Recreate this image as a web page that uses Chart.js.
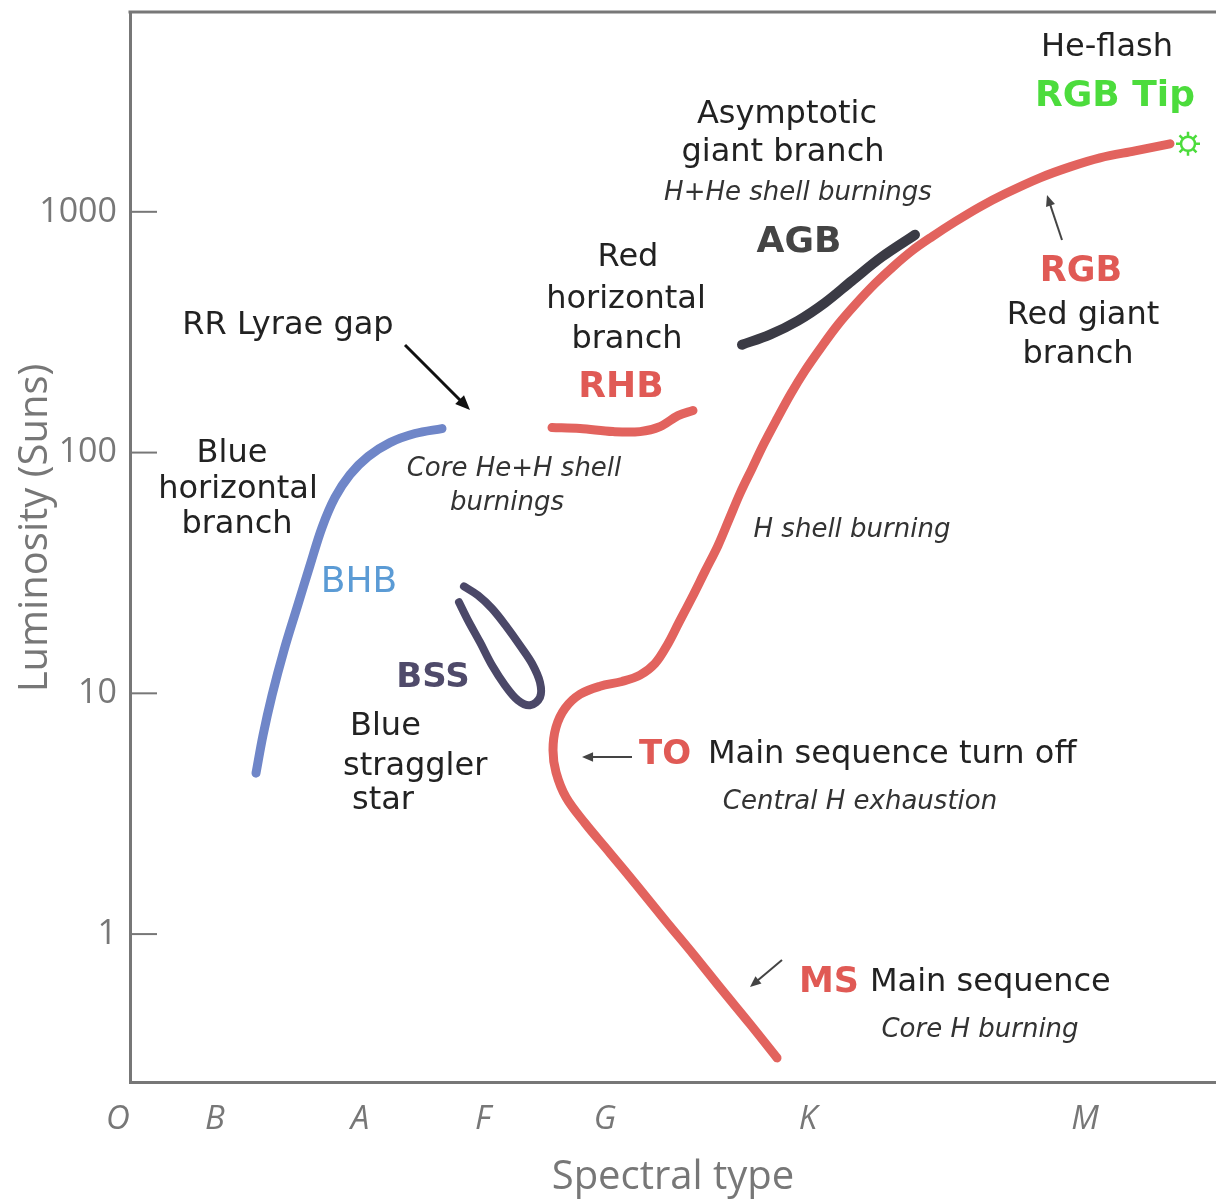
<!DOCTYPE html>
<html lang="en">
<head>
<meta charset="UTF-8">
<title>HR diagram</title>
<script src="https://cdn.jsdelivr.net/npm/chart.js"></script>
<style>
  html, body { margin: 0; background: #fff; overflow: hidden; }
  #wrap { width: 1216px; height: 1203px; }
  canvas { display: block; }
</style>
</head>
<body>
<div id="wrap"><canvas id="hr" width="1216" height="1203"></canvas></div>
<script>
// axis data
const spectralTypes = ['O', 'B', 'A', 'F', 'G', 'K', 'M'];
const spectralPos = [-1.2, 8.5, 23.0, 35.3, 47.5, 67.8, 95.5];
const lumTicks = [1, 10, 100, 1000];

// MS -> TO -> subgiant -> RGB up to the tip
const rgbX = [64.7, 62.0, 59.2, 56.4, 53.6, 50.8, 48.0, 45.5, 43.6, 42.6, 42.3, 42.6, 43.5, 45.0, 47.0,
  49.2, 51.0, 52.5, 53.7, 54.9, 56.2, 57.5, 58.8, 59.9, 61.0, 62.2, 63.4, 64.7, 66.1, 67.5,
  69.1, 70.8, 72.6, 74.5, 76.3, 78.2, 80.2, 82.5, 85.0, 87.5, 91.0, 94.0, 97.0, 100.5, 104.0];
const rgbL = [0.306, 0.423, 0.586, 0.818, 1.13, 1.57, 2.17, 2.89, 3.70, 4.70, 5.80, 7.23, 8.66, 9.91, 10.7,
  11.2, 11.9, 13.3, 15.8, 19.7, 25.0, 32.1, 41.1, 52.7, 67.6, 85.8, 109, 138, 176, 219,
  273, 340, 415, 503, 591, 689, 788, 909, 1049, 1188, 1384, 1537, 1675, 1791, 1916];

// blue horizontal branch
const bhbX = [12.6, 13.3, 14.2, 15.4, 16.7, 18.0, 19.2, 20.5, 22.0, 23.8, 26.0, 28.5, 31.2];
const bhbL = [4.66, 6.69, 9.81, 15.1, 22.7, 34.0, 48.8, 65.1, 81.0, 96.2, 110, 120, 125.8];

// red horizontal branch
const rhbX = [42.2, 45.0, 48.3, 51.0, 53.0, 54.8, 56.3];
const rhbL = [127, 125.8, 122.2, 122.2, 128.2, 142.4, 149.4];

// asymptotic giant branch
const agbX = [61.2, 64.0, 66.8, 69.5, 72.2, 75.2, 78.5];
const agbL = [280.6, 308.9, 352.9, 419.2, 517.3, 650.5, 802.9];

// blue straggler loop
const bssX = [33.4, 34.8, 36.2, 37.7, 39.0, 40.2, 41.0, 41.0, 40.0, 38.8, 37.5, 36.2, 35.0, 33.8, 32.9];
const bssL = [27.8, 25.5, 22.5, 18.8, 15.8, 13.3, 11.1, 9.62, 8.92, 9.35, 10.8, 13.07, 16.3, 20.1, 23.9];

// He-flash point
const tipX = [105.8];
const tipL = [1916];

const pts = (xs, ys) => xs.map((x, i) => ({ x: x, y: ys[i] }));

const AXIS = '#777';
const SANS = '"DejaVu Sans", Verdana, sans-serif';
const AXFONT = '"Open Sans", sans-serif';

function line(data, color, width) {
    return {
        data: data,
        showLine: true,
        borderColor: color,
        borderWidth: width,
        borderCapStyle: 'round',
        borderJoinStyle: 'round',
        pointRadius: 0,
        tension: 0.35,
        fill: false
    };
}

// annotation texts (canvas pixels)
const notes = [
    { t: 'He-flash', x: 1107, y: 48, f: '32px ' + SANS, c: '#222' },
    { t: 'RGB Tip', x: 1115, y: 97, f: 'bold 36px ' + SANS, c: '#4cdc3c' },
    { t: 'Asymptotic', x: 787, y: 115, f: '32px ' + SANS, c: '#222' },
    { t: 'giant branch', x: 783, y: 153, f: '32px ' + SANS, c: '#222' },
    { t: 'H+He shell burnings', x: 798, y: 193, f: 'italic 26px ' + SANS, c: '#333' },
    { t: 'AGB', x: 799, y: 243, f: 'bold 36px ' + SANS, c: '#444' },
    { t: 'Red', x: 628, y: 258, f: '32px ' + SANS, c: '#222' },
    { t: 'horizontal', x: 626, y: 300, f: '32px ' + SANS, c: '#222' },
    { t: 'branch', x: 627, y: 340, f: '32px ' + SANS, c: '#222' },
    { t: 'RHB', x: 621, y: 388, f: 'bold 36px ' + SANS, c: '#e05a55' },
    { t: 'RR Lyrae gap', x: 288, y: 326, f: '32px ' + SANS, c: '#222' },
    { t: 'Blue', x: 232, y: 454, f: '32px ' + SANS, c: '#222' },
    { t: 'horizontal', x: 238, y: 490, f: '32px ' + SANS, c: '#222' },
    { t: 'branch', x: 237, y: 525, f: '32px ' + SANS, c: '#222' },
    { t: 'Core He+H shell', x: 514, y: 469, f: 'italic 26px ' + SANS, c: '#333' },
    { t: 'burnings', x: 507, y: 503, f: 'italic 26px ' + SANS, c: '#333' },
    { t: 'BHB', x: 359, y: 583, f: '36px ' + SANS, c: '#5b9bd5' },
    { t: 'BSS', x: 433, y: 678, f: 'bold 34px ' + SANS, c: '#4f4a6a' },
    { t: 'Blue', x: 350, y: 727, f: '32px ' + SANS, c: '#222', a: 'left' },
    { t: 'straggler', x: 343, y: 767, f: '32px ' + SANS, c: '#222', a: 'left' },
    { t: 'star', x: 352, y: 801, f: '32px ' + SANS, c: '#222', a: 'left' },
    { t: 'TO', x: 665, y: 755, f: 'bold 34px ' + SANS, c: '#e05a55' },
    { t: 'Main sequence turn off', x: 708, y: 755, f: '32px ' + SANS, c: '#222', a: 'left' },
    { t: 'Central H exhaustion', x: 860, y: 802, f: 'italic 26px ' + SANS, c: '#333' },
    { t: 'H shell burning', x: 852, y: 530, f: 'italic 26px ' + SANS, c: '#333' },
    { t: 'RGB', x: 1081, y: 272, f: 'bold 35px ' + SANS, c: '#e05a55' },
    { t: 'Red giant', x: 1083, y: 316, f: '32px ' + SANS, c: '#222' },
    { t: 'branch', x: 1078, y: 355, f: '32px ' + SANS, c: '#222' },
    { t: 'MS', x: 829, y: 983, f: 'bold 35px ' + SANS, c: '#e05a55' },
    { t: 'Main sequence', x: 870, y: 983, f: '32px ' + SANS, c: '#222', a: 'left' },
    { t: 'Core H burning', x: 980, y: 1030, f: 'italic 26px ' + SANS, c: '#333' }
];

const arrows = [
    { x1: 405, y1: 345, x2: 470, y2: 410, c: '#111', w: 3, h: 16 },
    { x1: 632, y1: 757, x2: 582, y2: 757, c: '#444', w: 2, h: 12 },
    { x1: 782, y1: 960, x2: 750, y2: 987, c: '#444', w: 2, h: 12 },
    { x1: 1062, y1: 240, x2: 1047, y2: 195, c: '#444', w: 2, h: 12 }
];

function arrow(ctx, a) {
    const ang = Math.atan2(a.y2 - a.y1, a.x2 - a.x1);
    ctx.strokeStyle = a.c;
    ctx.fillStyle = a.c;
    ctx.lineWidth = a.w;
    ctx.beginPath();
    ctx.moveTo(a.x1, a.y1);
    ctx.lineTo(a.x2 - Math.cos(ang) * a.h * 0.6, a.y2 - Math.sin(ang) * a.h * 0.6);
    ctx.stroke();
    ctx.beginPath();
    ctx.moveTo(a.x2, a.y2);
    ctx.lineTo(a.x2 - a.h * Math.cos(ang - 0.4), a.y2 - a.h * Math.sin(ang - 0.4));
    ctx.lineTo(a.x2 - a.h * Math.cos(ang + 0.4), a.y2 - a.h * Math.sin(ang + 0.4));
    ctx.closePath();
    ctx.fill();
}

const decorations = {
    id: 'decorations',
    afterDraw(chart) {
        const ctx = chart.ctx;
        const area = chart.chartArea;
        const xs = chart.scales.x;
        const ys = chart.scales.y;
        ctx.save();
        // top frame line
        ctx.strokeStyle = AXIS;
        ctx.lineWidth = 3;
        ctx.beginPath();
        ctx.moveTo(area.left - 1.5, area.top);
        ctx.lineTo(area.right, area.top);
        ctx.stroke();
        // inward y ticks
        ctx.lineWidth = 2;
        lumTicks.forEach(v => {
            const py = ys.getPixelForValue(v);
            ctx.beginPath();
            ctx.moveTo(area.left, py);
            ctx.lineTo(area.left + 27, py);
            ctx.stroke();
        });
        // spectral type labels
        ctx.fillStyle = AXIS;
        ctx.font = 'italic 33px ' + AXFONT;
        ctx.textAlign = 'center';
        ctx.textBaseline = 'middle';
        spectralTypes.forEach((s, i) => {
            ctx.fillText(s, xs.getPixelForValue(spectralPos[i]), area.bottom + 38);
        });
        // y axis title
        ctx.save();
        ctx.translate(36, 528);
        ctx.rotate(-Math.PI / 2);
        ctx.font = '40px ' + AXFONT;
        ctx.fillText('Luminosity (Suns)', 0, 0);
        ctx.restore();
        // annotations
        notes.forEach(n => {
            ctx.font = n.f;
            ctx.fillStyle = n.c;
            ctx.textAlign = n.a || 'center';
            ctx.fillText(n.t, n.x, n.y);
        });
        arrows.forEach(a => arrow(ctx, a));
        ctx.restore();
    }
};

new Chart(document.getElementById('hr'), {
    type: 'scatter',
    data: {
        datasets: [
            line(pts(bhbX, bhbL), '#6f86c8', 9),
            line(pts(rhbX, rhbL), '#e2635e', 9),
            line(pts(bssX, bssL), '#4b4868', 8),
            line(pts(agbX, agbL), '#3b3b45', 10),
            line(pts(rgbX, rgbL), '#e2635e', 9),
            {
                data: pts(tipX, tipL),
                pointStyle: 'circle',
                pointRadius: 7,
                borderColor: '#4cdc3c',
                borderWidth: 2.5,
                backgroundColor: '#fff'
            },
            {
                data: pts(tipX, tipL),
                pointStyle: 'star',
                pointRadius: 12,
                borderColor: '#4cdc3c',
                borderWidth: 2.5,
                backgroundColor: '#fff'
            }
        ]
    },
    options: {
        responsive: false,
        animation: false,
        layout: { autoPadding: false, padding: { top: 12, left: 0, right: 0, bottom: 0 } },
        plugins: { legend: { display: false }, tooltip: { enabled: false } },
        scales: {
            x: {
                type: 'linear',
                min: 0,
                max: 108.6,
                grid: { display: false },
                border: { display: true, color: AXIS, width: 3 },
                ticks: { display: false },
                title: {
                    display: true,
                    text: 'Spectral type',
                    color: AXIS,
                    font: { family: AXFONT, size: 40 },
                    padding: { top: 0, bottom: 1 }
                },
                afterFit(scale) {
                    scale.height = 121;
                    scale.paddingLeft = 0;
                    scale.paddingRight = 0;
                }
            },
            y: {
                type: 'logarithmic',
                min: 0.243,
                max: 6760,
                grid: { drawOnChartArea: false, drawTicks: false },
                border: { display: true, color: AXIS, width: 3 },
                afterBuildTicks(scale) {
                    scale.ticks = lumTicks.map(v => ({ value: v }));
                },
                ticks: {
                    padding: 13,
                    color: AXIS,
                    font: { family: AXFONT, size: 34 },
                    callback: v => String(v)
                },
                afterFit(scale) {
                    scale.width = 130;
                    scale.paddingTop = 0;
                    scale.paddingBottom = 0;
                }
            }
        }
    },
    plugins: [decorations]
});
</script>
</body>
</html>
